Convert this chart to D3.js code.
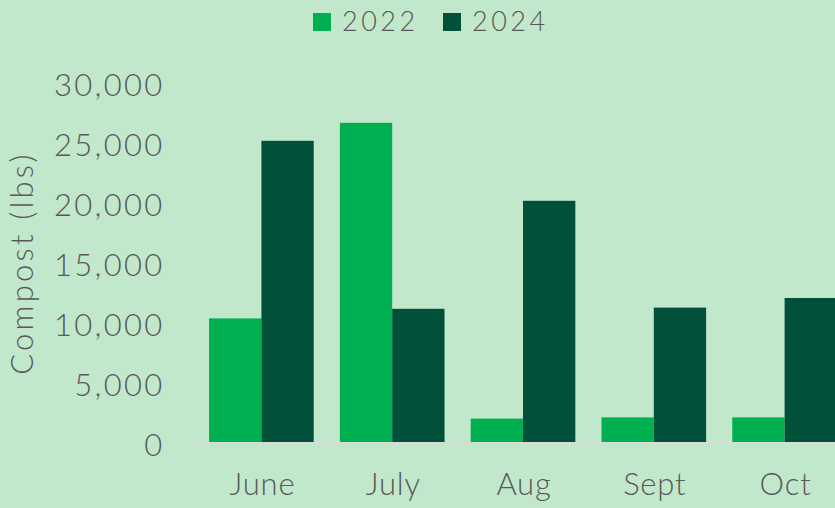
<!DOCTYPE html>
<html><head><meta charset="utf-8">
<script src="https://cdn.jsdelivr.net/npm/d3@7"></script>
<style>
html,body{margin:0;padding:0;background:#c2e8cb;overflow:hidden;}
text{font-family:Lato,"Open Sans",sans-serif;font-weight:300;fill:#595959;}
</style></head><body>
<svg id="chart" width="835" height="508"></svg>
<script>
const months = ["June","July","Aug","Sept","Oct"];
const seriesNames = ["2022","2024"];
const values2022 = [10300, 26600, 1950, 2050, 2050];
const values2024 = [25100, 11100, 20100, 11200, 12000];
const yTicks = [0,5000,10000,15000,20000,25000,30000];
const colors = ["#00b050","#00503a"];

const svg = d3.select("#chart");
svg.append("rect").attr("width",835).attr("height",508).attr("fill","#c2e8cb");

const x = d3.scaleBand().domain(months).range([196,850]).paddingInner(0.2).paddingOuter(0.1);
const xs = d3.scaleBand().domain(seriesNames).range([0,x.bandwidth()]);
const y = d3.scaleLinear().domain([0,30000]).range([442,82]);

const data = months.map((m,i)=>({month:m, vals:[values2022[i],values2024[i]]}));

// axis line
svg.append("line").attr("x1",193).attr("x2",835).attr("y1",y(0)+0.5).attr("y2",y(0)+0.5)
  .attr("stroke","#d9d9d9").attr("stroke-width",2);

const g = svg.selectAll("g.grp").data(data).join("g").attr("class","grp")
  .attr("transform",d=>`translate(${x(d.month)},0)`);
g.selectAll("rect").data(d=>d.vals.map((v,i)=>({s:seriesNames[i],v,i}))).join("rect")
  .attr("x",d=>xs(d.s)).attr("width",xs.bandwidth())
  .attr("y",d=>y(d.v)).attr("height",d=>y(0)-y(d.v))
  .attr("fill",d=>colors[d.i]);

// y axis
const yAxis = d3.axisLeft(y).tickValues(yTicks).tickFormat(d3.format(",")).tickSize(0).tickPadding(0);
const ya = svg.append("g").attr("transform","translate(164.5,0)").call(yAxis);
ya.select(".domain").remove();
ya.selectAll("text").style("font-size","31px").attr("fill","#595959").attr("dy","0.42em").style("letter-spacing","2.3px");

// x axis
const xAxis = d3.axisBottom(x).tickSize(0).tickPadding(0);
const xa = svg.append("g").attr("transform","translate(1,473)").call(xAxis);
xa.select(".domain").remove();
xa.selectAll("text").style("font-size","31px").attr("fill","#595959").attr("dy","0.71em").style("letter-spacing","0.8px");

// y title
svg.append("text").attr("transform","translate(33,263) rotate(-90)")
  .attr("text-anchor","middle").style("font-size","31px").style("letter-spacing","3.2px").text("Compost (lbs)");

// legend
const leg = svg.append("g");
const legX = [313,443];
seriesNames.forEach((s,i)=>{
  leg.append("rect").attr("x",legX[i]).attr("y",13).attr("width",18).attr("height",18).attr("fill",colors[i]);
  leg.append("text").attr("x",legX[i]+29).attr("y",22).attr("dy","0.35em")
    .style("font-size","27px").style("letter-spacing","3.5px").text(s);
});
</script></body></html>
